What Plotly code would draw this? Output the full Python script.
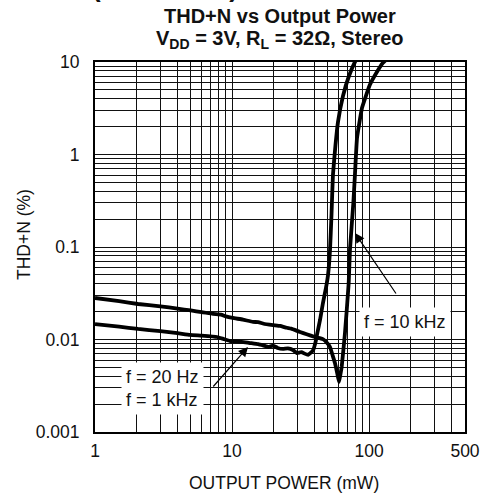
import math
import plotly.graph_objects as go

# ---- data ----
power_low = [1, 1.5, 2.06, 3, 4, 4.93, 6, 7.76, 8.7, 9.66, 11, 12.5, 13.5, 15.5, 17,
             18.5, 19.9, 21.5, 23.5, 25.5, 27.8, 29.7, 32, 35.8, 38.9, 40.5, 41.6,
             43.8, 46.0, 48.4, 50.1, 51.8, 53.1, 54.4, 56.8, 59.2, 64.4, 71.2, 78.7, 82]
thd_low = [0.0147, 0.0138, 0.0130, 0.0123, 0.0117, 0.0112, 0.0110, 0.01064, 0.0101,
           0.00963, 0.0095, 0.0093, 0.00916, 0.0089, 0.0086, 0.0083, 0.0086, 0.0081,
           0.0079, 0.0080, 0.0077, 0.00714, 0.0073, 0.0068, 0.0076, 0.0092, 0.0112,
           0.01625, 0.0248, 0.0361, 0.0498, 0.0929, 0.222, 0.600, 1.27, 2.24, 4.29,
           7.06, 10.0, 11.0]

power_10k = [1, 1.5, 2.06, 3, 4, 5, 6, 7.25, 8.3, 9, 10.1, 12, 14.2, 15.5, 17, 19.9,
             22.4, 25, 27, 31.3, 35, 40.2, 46.0, 49, 51.8, 54, 56.3, 58.5, 60.2, 61.5,
             63.0, 66.6, 70.9, 72.4, 76.6, 78.7, 81.5, 88.6, 101, 115, 126, 135]
thd_10k = [0.0281, 0.0260, 0.0242, 0.0228, 0.0216, 0.0206, 0.0198, 0.0189, 0.0186,
           0.0178, 0.0171, 0.0164, 0.0155, 0.0154, 0.0148, 0.0143, 0.0140, 0.0134,
           0.0131, 0.01205, 0.0114, 0.01064, 0.0101, 0.0093, 0.0083, 0.0068, 0.00557,
           0.0043, 0.00348, 0.0041, 0.00505, 0.01175, 0.0408, 0.093, 0.296, 0.60,
           1.51, 3.18, 5.64, 8.0, 9.8, 10.8]

x_tickvals = [1, 10, 100, 500]
x_ticktext = ["1", "10", "100", "500"]
y_tickvals = [0.001, 0.01, 0.1, 1, 10]
y_ticktext = ["0.001", "0.01", "0.1", "1", "10"]

label_low = "f = 20 Hz<br>f = 1 kHz"
label_10k = "f = 10 kHz"
# annotation anchors (data values): label box centre, arrow tail, arrow tip
lab_low_pos = (3.13, 0.00292)
arr_low_tail = (7.13, 0.00299)
arr_low_tip = (13.06, 0.0083)
lab_10k_pos = (182.4, 0.01545)
arr_10k_tail = (159.6, 0.0303)
arr_10k_tip = (78.8, 0.1416)

L = math.log10  # annotations on log axes are placed in log10 units

FONT = "Liberation Sans, Arial, sans-serif"
INK = "#111111"
GRID = "#111111"

fig = go.Figure()
fig.add_trace(go.Scatter(x=power_low, y=thd_low, mode="lines",
                         line=dict(color="black", width=3.8, shape="spline", smoothing=0.3),
                         name="f = 20 Hz, 1 kHz", showlegend=False))
fig.add_trace(go.Scatter(x=power_10k, y=thd_10k, mode="lines",
                         line=dict(color="black", width=3.8, shape="spline", smoothing=0.3),
                         name="f = 10 kHz", showlegend=False))

axis_common = dict(
    type="log", showline=True, linecolor="black", linewidth=2, mirror=True,
    showgrid=True, gridcolor=GRID, gridwidth=1.3, zeroline=False, automargin=False,
    ticks="", tickfont=dict(family=FONT, size=17.5, color=INK),
    minor=dict(dtick="D1", showgrid=True, gridcolor=GRID, gridwidth=1.3, ticks=""),
)

fig.update_xaxes(**axis_common, range=[0, L(500)], tickmode="array",
                 tickvals=x_tickvals, ticktext=x_ticktext, ticklabelstandoff=2)
fig.update_yaxes(**axis_common, range=[-3, 1], tickmode="array",
                 tickvals=y_tickvals, ticktext=y_ticktext, ticklabelstandoff=10)

annos = [
    dict(x=0.189, y=1.0, xref="paper", yref="paper", yshift=57, text="<b>(Continued)</b>",
         showarrow=False, font=dict(family=FONT, size=26, color=INK),
         xanchor="center", yanchor="bottom"),
    dict(x=L(lab_low_pos[0]), y=L(lab_low_pos[1]), xref="x", yref="y", text=label_low,
         showarrow=False, bgcolor="white", font=dict(family=FONT, size=18, color=INK),
         borderpad=4, align="left"),
    dict(x=L(lab_10k_pos[0]), y=L(lab_10k_pos[1]), xref="x", yref="y", text=label_10k,
         showarrow=False, bgcolor="white", font=dict(family=FONT, size=18, color=INK),
         borderpad=4),
    dict(x=L(arr_low_tip[0]), y=L(arr_low_tip[1]), ax=L(arr_low_tail[0]), ay=L(arr_low_tail[1]),
         xref="x", yref="y", axref="x", ayref="y", text="", showarrow=True,
         arrowhead=2, arrowsize=1.6, arrowwidth=1.2, arrowcolor="black"),
    dict(x=L(arr_10k_tip[0]), y=L(arr_10k_tip[1]), ax=L(arr_10k_tail[0]), ay=L(arr_10k_tail[1]),
         xref="x", yref="y", axref="x", ayref="y", text="", showarrow=True,
         arrowhead=2, arrowsize=1.6, arrowwidth=1.2, arrowcolor="black"),
    dict(x=0.5, y=1.0, xref="paper", yref="paper", yshift=46, text="<b>THD+N vs Output Power</b>",
         showarrow=False, font=dict(family=FONT, size=20, color=INK), xanchor="center", yanchor="middle"),
    dict(x=0.5, y=1.0, xref="paper", yref="paper", yshift=23,
         text="<b>V<sub>DD</sub> = 3V, R<sub>L</sub> = 32Ω, Stereo</b>",
         showarrow=False, font=dict(family=FONT, size=20, color=INK), xanchor="center", yanchor="middle"),
    dict(x=0.51, y=0.0, xref="paper", yref="paper", yshift=-51, text="OUTPUT POWER (mW)",
         showarrow=False, font=dict(family=FONT, size=17.5, color=INK), xanchor="center", yanchor="middle"),
    dict(x=0.0, y=0.5, xref="paper", yref="paper", xshift=-71, yshift=12, text="THD+N (%)", textangle=-90,
         showarrow=False, font=dict(family=FONT, size=17.5, color=INK), xanchor="center", yanchor="middle"),
]
fig.update_layout(
    width=486, height=498,
    margin=dict(l=95, r=21, t=62, b=66),
    paper_bgcolor="white", plot_bgcolor="white",
    annotations=annos, showlegend=False,
)
fig.write_html("out.html", config={"displayModeBar": False},
               post_script="document.body.style.margin='0px';")
